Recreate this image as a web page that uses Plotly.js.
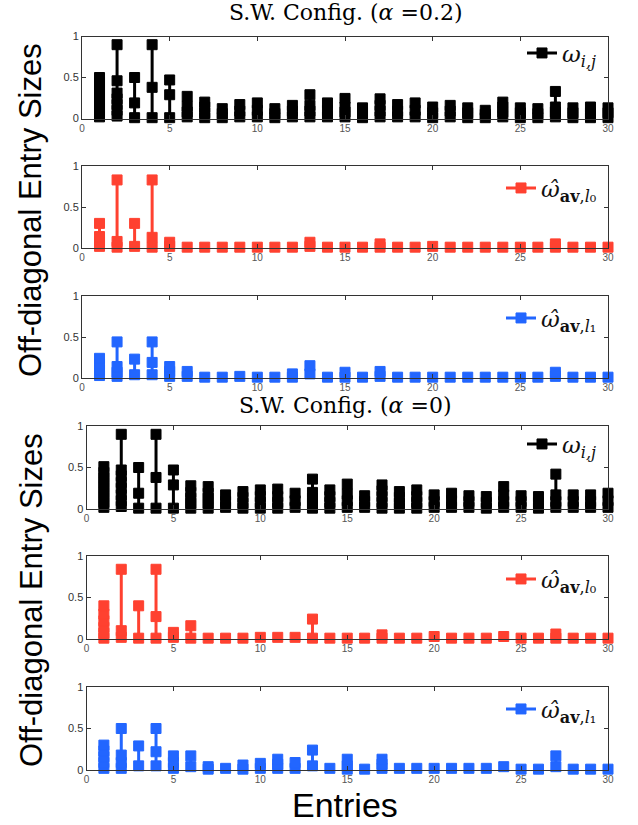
<!DOCTYPE html>
<html><head><meta charset="utf-8">
<script src="https://cdn.plot.ly/plotly-3.0.1.min.js"></script>
<style>html,body{margin:0;padding:0;background:#fff}#plot{width:638px;height:825px}</style>
</head><body><div id="plot"></div>
<script>
const entries = [1,2,3,4,5,6,7,8,9,10,11,12,13,14,15,16,17,18,19,20,21,22,23,24,25,26,27,28,29,30];
const titles = ["S.W. Config. (<i>α</i> =0.2)", "S.W. Config. (<i>α</i> =0)"];
const seriesNames = ["<i>ω</i><sub><i>i,j</i></sub>",
  "<i>ω̂</i><sub><b>av</b>,<i>l</i>₀</sub>",
  "<i>ω̂</i><sub><b>av</b>,<i>l</i>₁</sub>"];

// alpha = 0.2
const wTrue02 = [
 [0.02,0.08,0.14,0.2,0.26,0.32,0.38,0.44,0.5],[0.03,0.1,0.17,0.24,0.31,0.46,0.9],[0.01,0.19,0.5],[0.01,0.38,0.9],[0.01,0.29,0.47],
 [0.02,0.08,0.15,0.27],[0.01,0.07,0.14,0.2],[0.01,0.06,0.12],[0.02,0.09,0.17],[0.02,0.1,0.19],
 [0.01,0.06,0.12],[0.02,0.09,0.16],[0.02,0.09,0.16,0.29],[0.02,0.1,0.19],[0.02,0.08,0.14,0.245],
 [0.01,0.07,0.13],[0.02,0.09,0.16,0.24],[0.02,0.09,0.17],[0.02,0.1,0.19],[0.01,0.07,0.14],
 [0.02,0.09,0.16],[0.01,0.07,0.13],[0.01,0.05,0.1],[0.02,0.08,0.14,0.2],[0.01,0.07,0.13],
 [0.01,0.06,0.12],[0.02,0.08,0.14,0.33],[0.01,0.07,0.13],[0.01,0.07,0.14],[0.01,0.07,0.13]];
const wL0_02 = [
 [0.02,0.08,0.14,0.3],[0.01,0.08,0.83],[0.02,0.3],[0.01,0.13,0.83],[0.02,0.07],
 [0.01],[0.01],[0.01],[0.01],[0.01],[0.01],[0.01],[0.02,0.07],[0.01],[0.01],
 [0.01],[0.01,0.05],[0.01],[0.01],[0.02],[0.01],[0.01],[0.01],[0.01],[0.01],
 [0.01],[0.01,0.05],[0.01],[0.01],[0.01]];
const wL1_02 = [
 [0.03,0.1,0.17,0.24],[0.02,0.07,0.14,0.44],[0.04,0.23],[0.04,0.19,0.44],[0.02,0.08,0.14],
 [0.02,0.08],[0.01],[0.01],[0.02],[0.01],[0.01],[0.01,0.05],[0.05,0.15],[0.01],[0.01,0.07],
 [0.01],[0.02,0.08],[0.01],[0.01],[0.01],[0.01],[0.01],[0.01],[0.01],[0.01],
 [0.01],[0.02,0.07],[0.01],[0.01],[0.01]];
// alpha = 0
const wTrue0 = [
 [0.02,0.08,0.14,0.2,0.26,0.32,0.38,0.44,0.51],[0.03,0.1,0.17,0.25,0.32,0.4,0.47,0.9],[0.01,0.19,0.5],[0.01,0.38,0.9],[0.01,0.29,0.47],
 [0.01,0.07,0.13,0.2,0.28],[0.01,0.07,0.13,0.19,0.27],[0.02,0.09,0.17],[0.01,0.07,0.14,0.21],[0.01,0.08,0.15,0.23],
 [0.01,0.08,0.15,0.24],[0.02,0.1,0.19],[0.01,0.07,0.13,0.2,0.36],[0.01,0.08,0.15,0.23],[0.02,0.1,0.18,0.3],
 [0.02,0.09,0.16],[0.01,0.08,0.15,0.22,0.29],[0.01,0.07,0.14,0.21],[0.01,0.08,0.15,0.23],[0.02,0.09,0.17],
 [0.02,0.1,0.19],[0.02,0.09,0.16],[0.01,0.08,0.15],[0.02,0.09,0.17,0.27],[0.02,0.09,0.16],
 [0.01,0.08,0.15],[0.02,0.09,0.17,0.42],[0.02,0.09,0.17],[0.02,0.09,0.17],[0.02,0.1,0.19]];
const wL0_0 = [
 [0.01,0.07,0.14,0.22,0.3,0.4],[0.02,0.1,0.84],[0.01,0.4],[0.01,0.27,0.84],[0.02,0.08],
 [0.01,0.16],[0.01],[0.01],[0.01],[0.02],[0.02],[0.02],[0.01,0.24],[0.01],[0.01],
 [0.01],[0.01,0.05],[0.01],[0.01],[0.03],[0.01],[0.01],[0.01],[0.03],[0.01],
 [0.01],[0.01,0.06],[0.01],[0.01],[0.01]];
const wL1_0 = [
 [0.02,0.09,0.16,0.23,0.3],[0.02,0.09,0.18,0.5],[0.05,0.29],[0.05,0.22,0.5],[0.02,0.09,0.17],
 [0.04,0.17],[0.01,0.04],[0.02],[0.01,0.06],[0.02,0.08],[0.02,0.07,0.13],[0.02,0.09],[0.05,0.24],[0.02],[0.01,0.05,0.13],
 [0.01],[0.02,0.07,0.13],[0.02],[0.02],[0.02],[0.02],[0.02],[0.02],[0.04],[0.01],
 [0.01],[0.04,0.17],[0.01],[0.01],[0.01]];

const panels = [wTrue02, wL0_02, wL1_02, wTrue0, wL0_0, wL1_0];
const colors = ['#000000', '#ff4130', '#2266ff'];

// pixel layout (y from top)
const W = 638, H = 825;
const yPix = [[36.5,118.5],[166,248],[296,378],[426,509],[556,639],[687,770]];
const xPix = [[82,608],[82,608],[82,608],[86.5,608],[86.5,608],[86.5,608]];
const legY = [53, 188, 318, 444, 579, 709];

const data = [];
const layout = {
  width: W, height: H, margin: {l:0,r:0,t:0,b:0},
  paper_bgcolor: '#fff', plot_bgcolor: '#fff', showlegend: true,
  annotations: [], font: {family: 'Liberation Sans, Arial, sans-serif'}
};

panels.forEach((vals, p) => {
  const xs = [], ys = [];
  vals.forEach((list, i) => {
    const sorted = list.slice().sort((a,b)=>a-b);
    sorted.forEach(v => { xs.push(entries[i]); ys.push(v); });
    xs.push(null); ys.push(null);
  });
  const k = p + 1;
  const sfx = (k === 1 ? '' : k);
  const col = colors[p % 3];
  data.push({
    type: 'scatter', mode: 'lines+markers', x: xs, y: ys,
    xaxis: 'x' + sfx, yaxis: 'y' + sfx,
    name: seriesNames[p % 3], connectgaps: false, cliponaxis: false,
    line: {color: col, width: 3},
    marker: {symbol: 'square', size: 10, color: col, line: {color: col, width: 1}},
    legend: 'legend' + sfx, showlegend: true
  });
  layout['xaxis' + sfx] = {
    domain: [xPix[p][0]/W, xPix[p][1]/W], range: [0, 30],
    tickvals: [0,5,10,15,20,25,30], ticks: 'inside', ticklen: 4, tickwidth: 1, tickcolor: '#333',
    showline: true, linecolor: '#333', linewidth: 1, mirror: 'ticks', showgrid: false, zeroline: false,
    tickfont: {size: 10, color: '#555'}, anchor: 'y' + sfx
  };
  layout['yaxis' + sfx] = {
    domain: [1 - yPix[p][1]/H, 1 - yPix[p][0]/H], range: [0, 1],
    tickvals: [0, 0.5, 1], ticktext: ['0', '0.5', '1'], ticks: 'inside', ticklen: 4, tickwidth: 1, tickcolor: '#333',
    showline: true, linecolor: '#333', linewidth: 1, mirror: 'ticks', showgrid: false, zeroline: false,
    tickfont: {size: 11, color: '#333'}, anchor: 'x' + sfx
  };
  layout['legend' + sfx] = {
    x: 602/W, xanchor: 'right', y: 1 - legY[p]/H, yanchor: 'middle',
    bgcolor: 'rgba(0,0,0,0)', borderwidth: 0,
    font: {family: 'DejaVu Serif, serif', size: 23, color: '#111'}
  };
});

layout.annotations.push(
  {text: titles[0], xref: 'paper', yref: 'paper', x: 345/W, y: 1 - 13/H, showarrow: false,
   xanchor: 'center', yanchor: 'middle', font: {family: 'DejaVu Serif, serif', size: 22, color: '#000'}},
  {text: titles[1], xref: 'paper', yref: 'paper', x: 345/W, y: 1 - 405/H, showarrow: false,
   xanchor: 'center', yanchor: 'middle', font: {family: 'DejaVu Serif, serif', size: 22, color: '#000'}},
  {text: 'Off-diagonal Entry Sizes', xref: 'paper', yref: 'paper', x: 31/W, y: 1 - 210/H, showarrow: false,
   textangle: -90, xanchor: 'center', yanchor: 'middle', font: {size: 31, color: '#000'}},
  {text: 'Off-diagonal Entry Sizes', xref: 'paper', yref: 'paper', x: 31/W, y: 1 - 600/H, showarrow: false,
   textangle: -90, xanchor: 'center', yanchor: 'middle', font: {size: 31, color: '#000'}},
  {text: 'Entries', xref: 'paper', yref: 'paper', x: 345/W, y: 1 - 805/H, showarrow: false,
   xanchor: 'center', yanchor: 'middle', font: {size: 34, color: '#000'}}
);

Plotly.newPlot('plot', data, layout, {staticPlot: true});
</script></body></html>
